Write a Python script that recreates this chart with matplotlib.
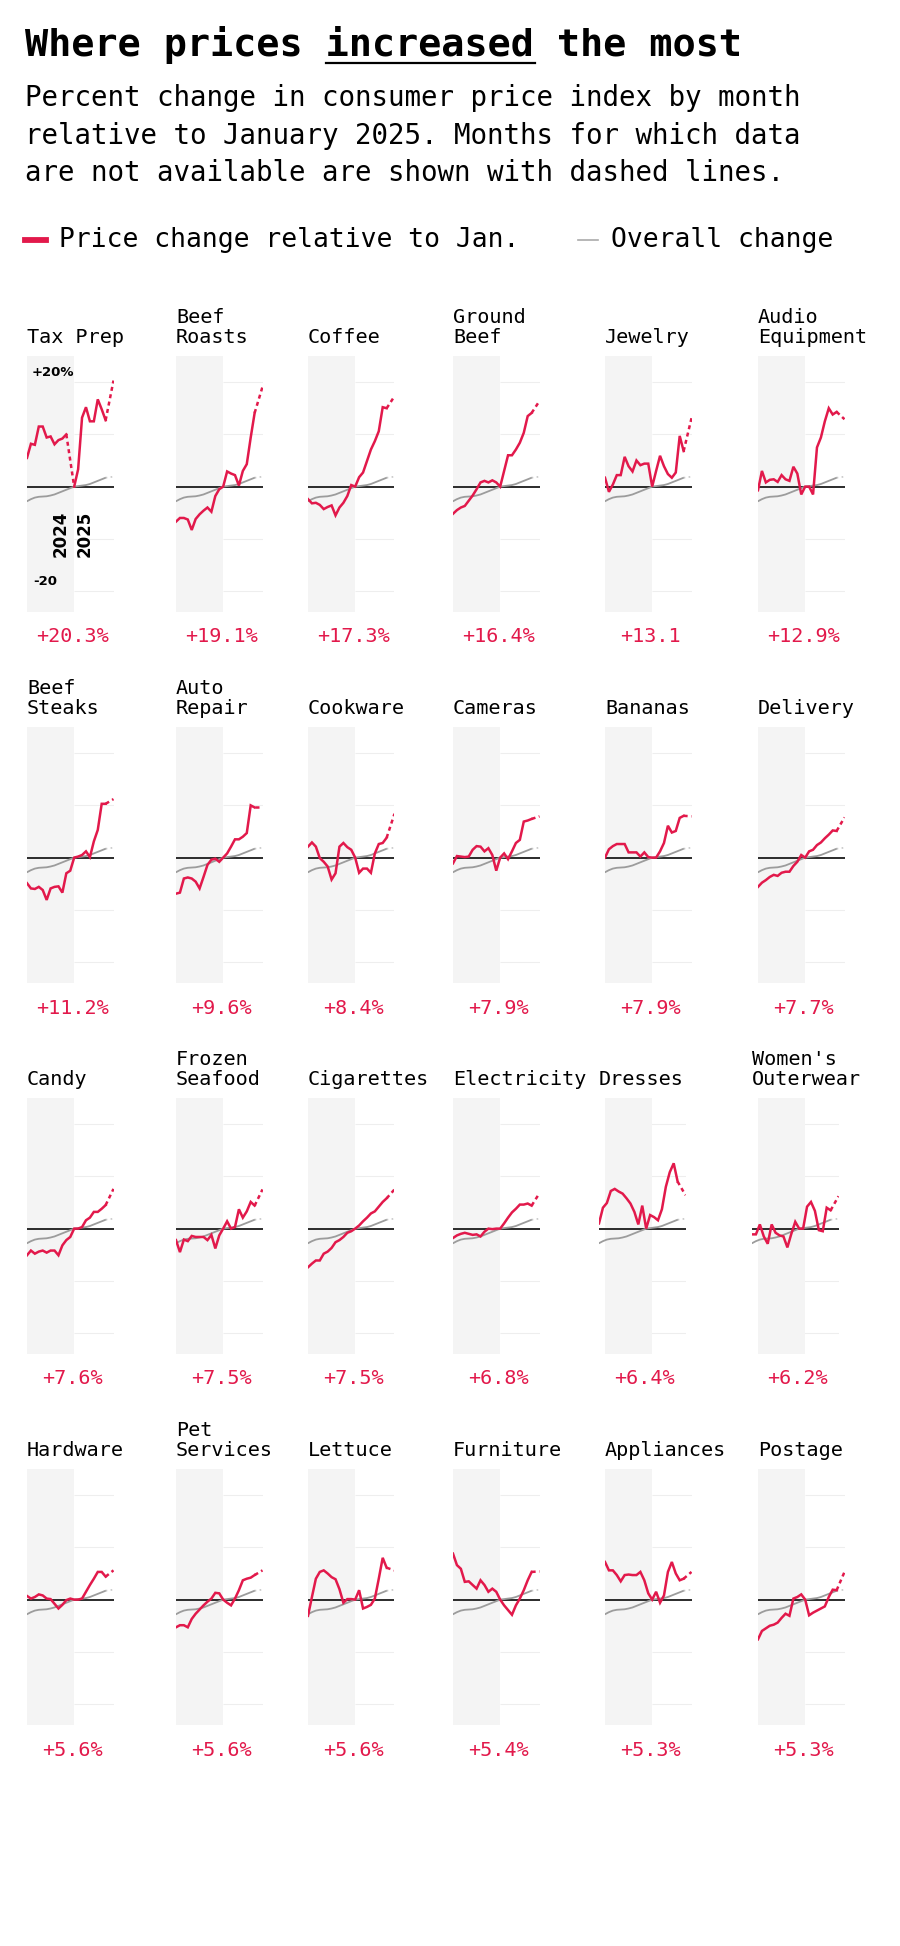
import numpy as np
import matplotlib.pyplot as plt
from matplotlib.lines import Line2D

nan = np.nan

# Jan 2024 ... Nov 2025 (Oct 2025 not published)
months = ['Jan 24', 'Feb 24', 'Mar 24', 'Apr 24', 'May 24', 'Jun 24', 'Jul 24', 'Aug 24',
          'Sep 24', 'Oct 24', 'Nov 24', 'Dec 24', 'Jan 25', 'Feb 25', 'Mar 25', 'Apr 25',
          'May 25', 'Jun 25', 'Jul 25', 'Aug 25', 'Sep 25', 'Oct 25', 'Nov 25']

overall = [-2.8, -2.4, -2.1, -1.95, -1.9, -1.85, -1.7, -1.5, -1.2, -0.9, -0.6, -0.3, 0.0,
           0.1, 0.2, 0.3, 0.5, 0.8, 1.1, 1.4, 1.7, nan, 1.9]

tax_prep = [5.5, 8.2, 8.0, 11.5, 11.5, 9.4, 9.6, 8.1, 8.9, 9.2, 10.0, nan, 0.0,
            3.3, 13.2, 15.2, 12.5, 12.5, 16.7, 14.8, 12.7, nan, 20.3]
beef_roasts = [-6.7, -6.0, -6.0, -6.3, -8.3, -6.2, -5.3, -4.6, -4.0, -4.8, -1.8, -0.5, 0.0,
               2.9, 2.5, 2.2, 0.2, 3.0, 4.3, 9.4, 14.1, nan, 19.1]
coffee = [-2.4, -3.2, -3.1, -3.5, -4.3, -3.9, -3.6, -5.5, -4.0, -3.1, -1.8, 0.3, 0.0,
          1.8, 2.7, 4.9, 7.1, 8.7, 10.6, 15.2, 15.0, nan, 17.3]
ground_beef = [-5.2, -4.5, -4.0, -3.7, -2.7, -1.7, -0.5, 0.8, 1.1, 0.8, 1.2, 0.8, 0.0,
               3.0, 6.0, 6.0, 7.1, 8.4, 10.3, 13.5, 14.1, nan, 16.4]
jewelry = [1.7, -1.0, 0.4, 2.2, 2.2, 5.7, 3.9, 2.9, 5.0, 4.1, 4.4, 4.4, 0.0,
           3.0, 5.9, 3.9, 2.4, 1.7, 2.7, 9.7, 6.8, nan, 13.1]
audio_equipment = [-0.7, 3.0, 0.8, 1.3, 1.4, 0.9, 2.2, 1.4, 1.1, 3.8, 2.5, -1.5, 0.0,
                   0.0, -1.5, 7.5, 9.4, 12.5, 15.0, 13.8, 14.3, nan, 12.9]
beef_steaks = [-4.9, -5.9, -6.0, -5.6, -6.2, -8.1, -5.9, -5.6, -5.5, -6.7, -3.0, -2.5, 0.0,
               0.2, 0.5, 1.2, 0.1, 3.1, 5.3, 10.3, 10.3, nan, 11.2]
auto_repair = [-6.9, -6.7, -4.0, -3.8, -4.0, -4.6, -5.9, -3.7, -1.4, -0.4, -0.2, -0.8, 0.0,
               0.8, 2.1, 3.5, 3.5, 4.0, 4.7, 10.0, 9.6, nan, 9.6]
cookware = [2.1, 2.9, 2.1, -0.1, -0.8, -1.7, -4.2, -3.0, 2.1, 2.8, 2.0, 1.5, 0.0,
            -2.9, -2.1, -2.1, -2.9, 0.8, 2.6, 2.8, 3.8, nan, 8.4]
cameras = [-1.1, 0.3, 0.2, 0.1, 0.2, 1.5, 2.2, 2.1, 1.2, 1.8, 0.5, -2.5, 0.0,
           0.8, -0.3, 1.2, 2.8, 3.4, 6.9, 7.1, 7.4, nan, 7.9]
bananas = [0.0, 1.6, 2.2, 2.6, 2.6, 2.6, 1.0, 1.0, 1.0, 0.2, 1.0, 0.1, 0.0,
           0.0, 1.2, 2.8, 6.1, 4.8, 5.1, 7.6, 8.0, nan, 7.9]
delivery = [-5.6, -4.8, -4.3, -3.7, -3.3, -3.5, -2.9, -2.7, -2.7, -1.6, -0.8, 0.5, 0.0,
            1.2, 1.5, 2.4, 2.9, 3.7, 4.4, 5.2, 5.1, nan, 7.7]
candy = [-5.1, -4.2, -4.8, -4.4, -4.2, -4.6, -4.2, -4.2, -5.1, -3.2, -2.2, -1.6, 0.0,
         0.0, 0.3, 1.6, 2.1, 3.2, 3.2, 3.8, 4.5, nan, 7.6]
frozen_seafood = [-2.2, -4.5, -2.1, -2.4, -1.4, -1.6, -1.6, -1.6, -2.2, -1.2, -3.8, -1.3, 0.0,
                  1.4, 0.0, 0.3, 3.7, 2.1, 3.3, 5.1, 4.4, nan, 7.5]
cigarettes = [-7.4, -6.7, -6.1, -6.1, -4.8, -4.4, -3.7, -2.6, -2.2, -1.6, -0.8, -0.5, 0.0,
              0.6, 1.4, 2.1, 2.9, 3.3, 4.2, 5.1, 5.8, nan, 7.5]
electricity = [-1.8, -1.3, -1.0, -0.8, -1.0, -1.2, -1.1, -1.5, -0.6, 0.0, -0.1, 0.0, 0.0,
               1.0, 2.1, 3.1, 3.8, 4.6, 4.6, 4.8, 4.4, nan, 6.8]
dresses = [1.0, 4.0, 4.9, 7.2, 7.6, 7.1, 6.7, 5.8, 4.8, 3.2, 0.8, 4.4, 0.0,
           2.6, 2.2, 1.6, 3.7, 8.0, 10.8, 12.5, 9.0, nan, 6.4]
womens_outerwear = [-1.1, -1.1, 0.8, -1.5, -2.9, 0.8, -0.8, -1.3, -1.5, -3.6, -1.0, 1.3, 0.0,
                    0.0, 4.2, 5.1, 3.4, -0.3, -0.5, 4.0, 3.5, nan, 6.2]
hardware = [0.7, 0.2, 0.5, 1.0, 0.8, 0.2, 0.1, -0.8, -1.7, -1.0, -0.1, 0.2, 0.0,
            0.0, 0.2, 1.5, 2.8, 4.0, 5.3, 5.3, 4.4, nan, 5.6]
pet_services = [-5.3, -4.9, -4.9, -5.3, -3.7, -2.7, -1.9, -1.1, -0.4, 0.2, 1.3, 1.2, 0.0,
                -0.6, -1.1, 0.2, 1.8, 3.7, 4.0, 4.2, 4.7, nan, 5.6]
lettuce = [-3.1, 0.5, 4.0, 5.3, 5.6, 5.0, 4.3, 3.9, 2.0, -0.6, 0.1, 0.1, 0.0,
           1.8, -1.7, -1.4, -1.0, 0.2, 4.0, 8.0, 6.1, nan, 5.6]
furniture = [8.8, 6.6, 5.9, 3.4, 3.5, 2.8, 2.1, 3.7, 2.8, 1.5, 2.1, 1.5, 0.0,
             -1.1, -2.0, -2.9, -1.1, 0.2, 1.8, 3.7, 5.3, nan, 5.4]
appliances = [7.2, 5.6, 5.6, 4.7, 3.5, 4.7, 4.8, 4.7, 4.7, 5.3, 3.7, 1.2, 0.0,
              1.5, -0.6, 0.8, 5.3, 7.2, 5.0, 3.7, 4.0, nan, 5.3]
postage = [-7.6, -6.0, -5.5, -5.0, -4.8, -4.4, -3.5, -2.7, -3.1, 0.2, 0.5, 1.0, 0.0,
           -3.0, -2.5, -2.1, -1.7, -1.3, 0.5, 1.9, 1.8, nan, 5.3]

categories = ['Tax Prep', 'Beef\nRoasts', 'Coffee', 'Ground\nBeef', 'Jewelry', 'Audio\nEquipment',
              'Beef\nSteaks', 'Auto\nRepair', 'Cookware', 'Cameras', 'Bananas', 'Delivery',
              'Candy', 'Frozen\nSeafood', 'Cigarettes', 'Electricity', 'Dresses', "Women's\nOuterwear",
              'Hardware', 'Pet\nServices', 'Lettuce', 'Furniture', 'Appliances', 'Postage']
series = [tax_prep, beef_roasts, coffee, ground_beef, jewelry, audio_equipment,
          beef_steaks, auto_repair, cookware, cameras, bananas, delivery,
          candy, frozen_seafood, cigarettes, electricity, dresses, womens_outerwear,
          hardware, pet_services, lettuce, furniture, appliances, postage]
final_labels = ['+20.3%', '+19.1%', '+17.3%', '+16.4%', '+13.1', '+12.9%',
                '+11.2%', '+9.6%', '+8.4%', '+7.9%', '+7.9%', '+7.7%',
                '+7.6%', '+7.5%', '+7.5%', '+6.8%', '+6.4%', '+6.2%',
                '+5.6%', '+5.6%', '+5.6%', '+5.4%', '+5.3%', '+5.3%']

subtitle_lines = ['Percent change in consumer price index by month',
                  'relative to January 2025. Months for which data',
                  'are not available are shown with dashed lines.']

# ---- layout (pixels) ----
W, H = 900, 1946
RED = '#e2194b'
GRAY = '#9c9c9c'
MONO = 'DejaVu Sans Mono'
col_x = [27, 176, 308, 453, 605, 758]
row_top = [356, 727, 1098, 1469]
PW, PH = 86.5, 256
px_shift = {16: -6, 17: -6}   # a couple of panels sit slightly left of their shading

fig = plt.figure(figsize=(W / 100, H / 100), dpi=100)


def fx(px):
    return px / W


def fy(py):
    return 1 - py / H


# header
title_fs = 27.7
pitch = title_fs * 100 / 72 * 0.6021
fig.text(fx(25), fy(56), 'Where prices increased the most', fontsize=title_fs,
         fontweight='bold', family=MONO, va='baseline')
fig.add_artist(Line2D([fx(25 + 13 * pitch), fx(25 + 22 * pitch)], [fy(63), fy(63)],
                      color='black', lw=1.6, transform=fig.transFigure))
for k, line in enumerate(subtitle_lines):
    fig.text(fx(25), fy(106 + 37.5 * k), line, fontsize=19.8, family=MONO, va='baseline')

fig.add_artist(Line2D([fx(25), fx(46)], [fy(240), fy(240)], color=RED, lw=4.2,
                      transform=fig.transFigure))
fig.text(fx(59), fy(247), 'Price change relative to Jan.', fontsize=19, family=MONO, va='baseline')
fig.add_artist(Line2D([fx(578), fx(598)], [fy(240), fy(240)], color='#aaaaaa', lw=1.2,
                      transform=fig.transFigure))
fig.text(fx(611), fy(247), 'Overall change', fontsize=19, family=MONO, va='baseline')

x = np.arange(len(months))
ov = np.array(overall)
last = len(months) - 1


def gap_segments(v):
    # pairs of valid points that enclose missing months
    ok = np.where(~np.isnan(v))[0]
    return [(a, b) for a, b in zip(ok[:-1], ok[1:]) if b - a > 1]


for i, (name, vals, lab) in enumerate(zip(categories, series, final_labels)):
    r, c = divmod(i, 6)
    shift = px_shift.get(i, 0)
    left = col_x[c] + shift
    top = row_top[r]
    ax = fig.add_axes([fx(left), fy(top + PH), PW / W, PH / H])
    ax.set_xlim(0, last)
    ax.set_ylim(-24, 25)
    ax.axis('off')

    s = -shift / (PW / last)
    ax.axvspan(s, 12 + s, color='#f4f4f4', lw=0, zorder=1)
    ax.hlines([-20, -10, 10, 20], 12, last, color='#eeeeee', lw=0.8, zorder=0)
    ax.axhline(0, color='#2b2b2b', lw=1.4, zorder=2)

    ax.plot(x, ov, color=GRAY, lw=1.3, zorder=3, solid_capstyle='round')
    for a, b in gap_segments(ov):
        ax.plot([a, b], [ov[a], ov[b]], color='#c8c8c8', lw=1.2, ls=(0, (1, 2)), zorder=3)

    v = np.array(vals)
    ax.plot(x, v, color=RED, lw=1.8, zorder=4, solid_joinstyle='miter')
    for a, b in gap_segments(v):
        ax.plot([a, b], [v[a], v[b]], color=RED, lw=1.8, ls=(0, (1.6, 1.4)), zorder=4)

    # category title, bottom-aligned above the panel
    for k, line in enumerate(reversed(name.split('\n'))):
        fig.text(fx(left), fy(top - 13 - 20 * k), line, fontsize=14.5, family=MONO,
                 va='baseline', ha='left')
    fig.text(fx(left + PW / 2 + 2), fy(top + PH + 25), lab, fontsize=14.5, family=MONO,
             color=RED, ha='center', va='center')

    if i == 0:
        ax.text(1.2, 21.8, '+20%', fontsize=9.5, fontweight='bold', va='center', ha='left')
        ax.text(1.6, -18.2, '-20', fontsize=9.5, fontweight='bold', va='center', ha='left')
        ax.text(8.5, -9.0, '2024', fontsize=12, fontweight='bold', rotation=90,
                ha='center', va='center', zorder=5)
        ax.text(14.7, -9.0, '2025', fontsize=12, fontweight='bold', rotation=90,
                ha='center', va='center', zorder=5)

fig.savefig('out.png', dpi=100, facecolor='white')
